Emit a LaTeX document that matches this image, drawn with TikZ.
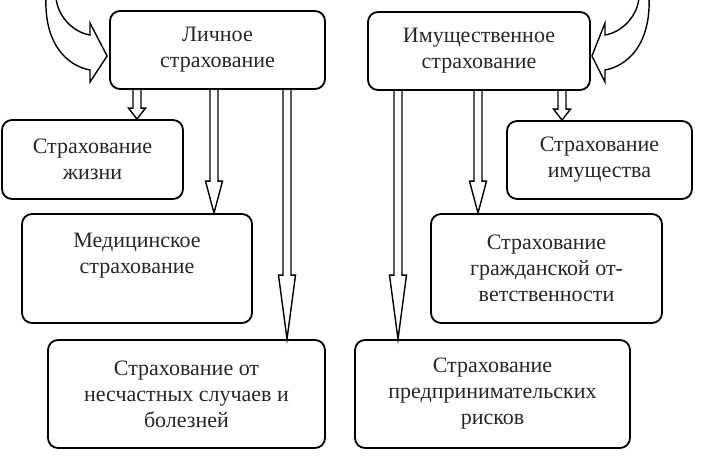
\documentclass[tikz,border=0pt]{standalone}
\usepackage{fontspec}
\setmainfont{Liberation Serif}
\usetikzlibrary{calc}
\tikzset{
  box/.style={draw, line width=1.8pt, rounded corners=10pt, align=center, inner sep=0pt,
    font=\fontsize{22}{26}\selectfont, text=black!85},
  arrline/.style={line width=1.4pt, line join=miter},
  bigarrow/.style={line width=1.4pt, fill=white, line join=miter},
}
\newcommand\harrow[3]{%
  \draw[arrline] let \p1=(#1), \p2=(#2) in
    (\x1-4pt,\y1) -- (\x1-4pt,\y2+#3) -- (\x1-8.5pt,\y2+#3) -- (\x1,\y2)
    -- (\x1+8.5pt,\y2+#3) -- (\x1+4pt,\y2+#3) -- (\x1+4pt,\y1);}
\begin{document}
\begin{tikzpicture}[x=1pt,y={(0pt,-1pt)}]
\useasboundingbox (0,0) rectangle (708,459);
\clip (0,0) rectangle (708,459);

% boxes
\node[box, minimum width=215pt, minimum height=78pt] (lich) at (217.5,50) {Личное\\страхование};
\node[box, minimum width=222pt, minimum height=78pt] (imu) at (479,51) {Имущественное\\страхование};
\node[box, minimum width=181pt, minimum height=79pt] (zhizn) at (92.5,159.5) {Страхование\\жизни};
\node[box, minimum width=230pt, minimum height=109pt] (med) at (137,268.5) {};
\node[font=\fontsize{22}{26}\selectfont, text=black!85, align=center, inner sep=0pt] (medtxt) at (137,256) {Медицинское\\страхование};
\node[box, minimum width=277pt, minimum height=108pt] (nes) at (186.5,394) {Страхование от\\несчастных случаев и\\болезней};
\node[box, minimum width=185pt, minimum height=78pt] (imus) at (599.5,160) {Страхование\\имущества};
\node[box, minimum width=231pt, minimum height=109pt] (grazh) at (546.5,268.5) {Страхование\\гражданской от-\\ветственности};
\node[box, minimum width=275pt, minimum height=108pt] (pred) at (492.5,394) {Страхование\\предпринимательских\\рисков};

% hollow arrows
\coordinate (a1s) at (lich.south -| 137,0);
\coordinate (a1e) at (zhizn.north -| 137,0);
\harrow{a1s}{a1e}{11pt}
\coordinate (a2s) at (lich.south -| 214,0);
\coordinate (a2e) at (med.north -| 214,0);
\harrow{a2s}{a2e}{32pt}
\coordinate (a3s) at (lich.south -| 287,0);
\coordinate (a3e) at (nes.north -| 287,0);
\harrow{a3s}{a3e}{64pt}
\coordinate (b1s) at (imu.south -| 398,0);
\coordinate (b1e) at (pred.north -| 398,0);
\harrow{b1s}{b1e}{64pt}
\coordinate (b2s) at (imu.south -| 478,0);
\coordinate (b2e) at (grazh.north -| 478,0);
\harrow{b2s}{b2e}{32pt}
\coordinate (b3s) at (imu.south -| 562,0);
\coordinate (b3e) at (imus.north -| 562,0);
\harrow{b3s}{b3e}{11pt}

% curved arrows
\coordinate (ltip) at (lich.west |- 0,56);
\draw[bigarrow] (46,-3) .. controls (44,45) and (68,66) .. (90,70)
  -- (90,82) -- ($(ltip)+(-2,0)$) -- (90,23) -- (90,35)
  .. controls (72,32) and (57,15) .. (56,-3);
\coordinate (rtip) at (imu.east |- 0,56);
\draw[bigarrow] (649,-3) .. controls (651,45) and (627,66) .. (605,70)
  -- (605,82) -- ($(rtip)+(1,0)$) -- (605,23) -- (605,35)
  .. controls (623,32) and (638,15) .. (639,-3);
\end{tikzpicture}
\end{document}
